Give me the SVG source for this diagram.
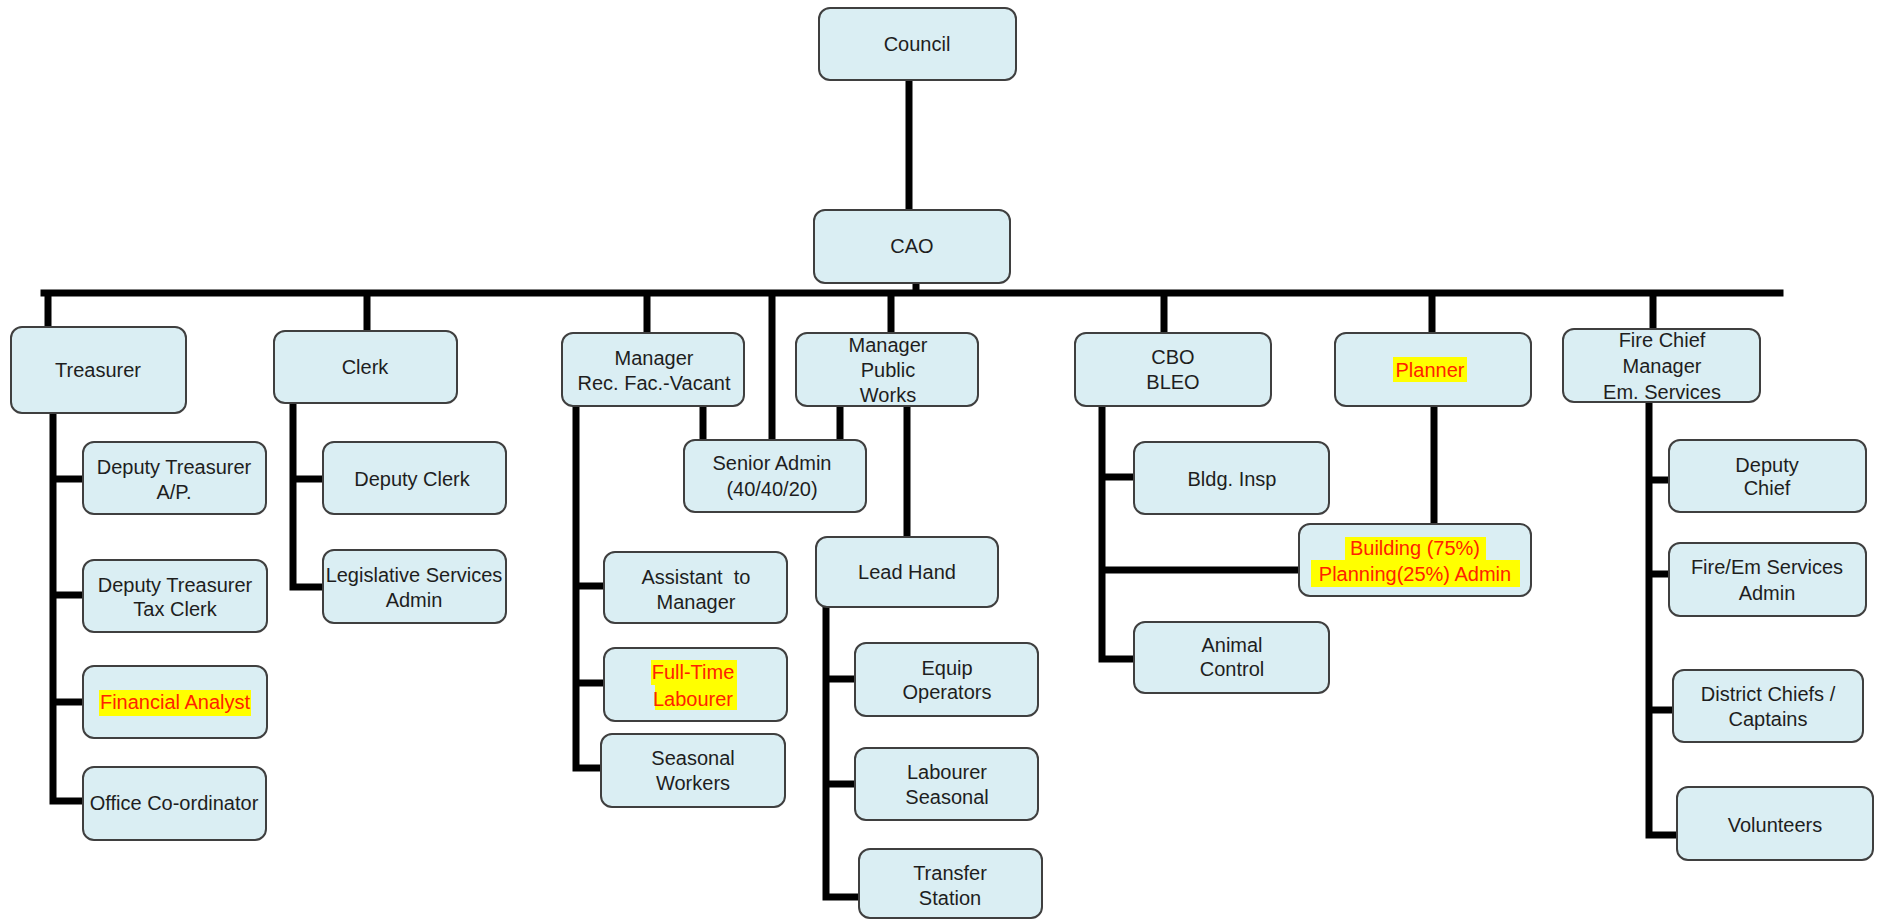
<svg xmlns="http://www.w3.org/2000/svg" width="1881" height="919" viewBox="0 0 1881 919">
<style>
.box{fill:#DAEEF3;stroke:#3f3f3f;stroke-width:2}
.t{font-family:"Liberation Sans",Arial,sans-serif;font-size:20px;fill:#1e1e1e;text-anchor:middle}
.r{fill:#FF2200}
.hl{fill:#FFFF00}
.c{fill:none;stroke:#000;stroke-width:7;stroke-linecap:square}
</style>
<rect width="1881" height="919" fill="#fff"/>
<g id="connectors">
<path class="c" d="M909 82V208M916 285V293M44 293H1780M48 293V326M367 293V330M647 293V332M772 293V439M891 293V332M1164 293V332M1432 293V332M1653 293V328"/>
<path class="c" d="M53 415V801H83M53 479H83M53 595H83M53 702H83"/>
<path class="c" d="M293 405V587H323M293 479H323"/>
<path class="c" d="M576 408V768H601M576 586H604M576 683H604"/>
<path class="c" d="M703 408V439M840 408V439M907 410V536"/>
<path class="c" d="M826 609V897H859M826 679H855M826 784H855"/>
<path class="c" d="M1102 408V659H1134M1102 477H1134M1102 570H1299"/>
<path class="c" d="M1434 408V523"/>
<path class="c" d="M1649 404V835H1677M1649 480H1669M1649 574H1669M1649 710H1673"/>
</g>
<g id="council"><rect class="box" x="819" y="8" width="197" height="72" rx="11"/><text class="t" x="917" y="51">Council</text></g>
<g id="cao"><rect class="box" x="814" y="210" width="196" height="73" rx="11"/><text class="t" x="912" y="253">CAO</text></g>
<g id="treasurer"><rect class="box" x="11" y="327" width="175" height="86" rx="11"/><text class="t" x="98" y="377">Treasurer</text></g>
<g id="clerk"><rect class="box" x="274" y="331" width="183" height="72" rx="11"/><text class="t" x="365" y="374">Clerk</text></g>
<g id="manager-rec"><rect class="box" x="562" y="333" width="182" height="73" rx="11"/><text class="t" x="654" y="365">Manager</text><text class="t" x="654" y="390">Rec. Fac.-Vacant</text></g>
<g id="manager-pw"><rect class="box" x="796" y="333" width="182" height="73" rx="11"/><text class="t" x="888" y="352">Manager</text><text class="t" x="888" y="377">Public</text><text class="t" x="888" y="402">Works</text></g>
<g id="senior-admin"><rect class="box" x="684" y="440" width="182" height="72" rx="11"/><text class="t" x="772" y="470">Senior Admin</text><text class="t" x="772" y="496">(40/40/20)</text></g>
<g id="cbo"><rect class="box" x="1075" y="333" width="196" height="73" rx="11"/><text class="t" x="1173" y="364">CBO</text><text class="t" x="1173" y="389">BLEO</text></g>
<g id="planner"><rect class="box" x="1335" y="333" width="196" height="73" rx="11"/><rect class="hl" x="1393" y="357" width="74" height="25"/><text class="t r" x="1430" y="377">Planner</text></g>
<g id="fire-chief"><rect class="box" x="1563" y="329" width="197" height="73" rx="11"/><text class="t" x="1662" y="347">Fire Chief</text><text class="t" x="1662" y="373">Manager</text><text class="t" x="1662" y="399">Em. Services</text></g>
<g id="deputy-treasurer-ap"><rect class="box" x="83" y="442" width="183" height="72" rx="11"/><text class="t" x="174" y="474">Deputy Treasurer</text><text class="t" x="174" y="499">A/P.</text></g>
<g id="deputy-treasurer-tax"><rect class="box" x="83" y="560" width="184" height="72" rx="11"/><text class="t" x="175" y="592">Deputy Treasurer</text><text class="t" x="175" y="616">Tax Clerk</text></g>
<g id="financial-analyst"><rect class="box" x="83" y="666" width="184" height="72" rx="11"/><rect class="hl" x="99" y="690" width="152" height="26"/><text class="t r" x="175" y="709">Financial Analyst</text></g>
<g id="office-coordinator"><rect class="box" x="83" y="767" width="183" height="73" rx="11"/><text class="t" x="174" y="810">Office Co-ordinator</text></g>
<g id="deputy-clerk"><rect class="box" x="323" y="442" width="183" height="72" rx="11"/><text class="t" x="412" y="486">Deputy Clerk</text></g>
<g id="legislative"><rect class="box" x="323" y="550" width="183" height="73" rx="11"/><text class="t" x="414" y="582">Legislative Services</text><text class="t" x="414" y="607">Admin</text></g>
<g id="assistant"><rect class="box" x="604" y="552" width="183" height="71" rx="11"/><text class="t" x="696" y="584" xml:space="preserve">Assistant  to</text><text class="t" x="696" y="609">Manager</text></g>
<g id="full-time-labourer"><rect class="box" x="604" y="648" width="183" height="73" rx="11"/><rect class="hl" x="651" y="660" width="86" height="25"/><rect class="hl" x="655" y="685" width="82" height="25"/><text class="t r" x="693" y="679">Full-Time</text><text class="t r" x="693" y="706">Labourer</text></g>
<g id="seasonal-workers"><rect class="box" x="601" y="734" width="184" height="73" rx="11"/><text class="t" x="693" y="765">Seasonal</text><text class="t" x="693" y="790">Workers</text></g>
<g id="lead-hand"><rect class="box" x="816" y="537" width="182" height="70" rx="11"/><text class="t" x="907" y="579">Lead Hand</text></g>
<g id="equip-operators"><rect class="box" x="855" y="643" width="183" height="73" rx="11"/><text class="t" x="947" y="675">Equip</text><text class="t" x="947" y="699">Operators</text></g>
<g id="labourer-seasonal"><rect class="box" x="855" y="748" width="183" height="72" rx="11"/><text class="t" x="947" y="779">Labourer</text><text class="t" x="947" y="804">Seasonal</text></g>
<g id="transfer-station"><rect class="box" x="859" y="849" width="183" height="69" rx="11"/><text class="t" x="950" y="880">Transfer</text><text class="t" x="950" y="905">Station</text></g>
<g id="bldg-insp"><rect class="box" x="1134" y="442" width="195" height="72" rx="11"/><text class="t" x="1232" y="486">Bldg. Insp</text></g>
<g id="building-planning"><rect class="box" x="1299" y="524" width="232" height="72" rx="11"/><rect class="hl" x="1345" y="537" width="141" height="23"/><rect class="hl" x="1311" y="560" width="209" height="27"/><text class="t r" x="1415" y="555">Building (75%)</text><text class="t r" x="1415" y="581">Planning(25%) Admin</text></g>
<g id="animal-control"><rect class="box" x="1134" y="622" width="195" height="71" rx="11"/><text class="t" x="1232" y="652">Animal</text><text class="t" x="1232" y="676">Control</text></g>
<g id="deputy-chief"><rect class="box" x="1669" y="440" width="197" height="72" rx="11"/><text class="t" x="1767" y="472">Deputy</text><text class="t" x="1767" y="495">Chief</text></g>
<g id="fire-em-admin"><rect class="box" x="1669" y="543" width="197" height="73" rx="11"/><text class="t" x="1767" y="574">Fire/Em Services</text><text class="t" x="1767" y="600">Admin</text></g>
<g id="district-chiefs"><rect class="box" x="1673" y="670" width="190" height="72" rx="11"/><text class="t" x="1768" y="701">District Chiefs /</text><text class="t" x="1768" y="726">Captains</text></g>
<g id="volunteers"><rect class="box" x="1677" y="787" width="196" height="73" rx="11"/><text class="t" x="1775" y="832">Volunteers</text></g>
</svg>
